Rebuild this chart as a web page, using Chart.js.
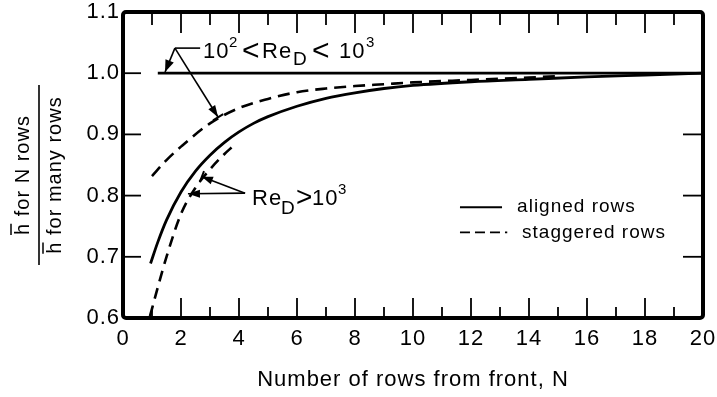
<!DOCTYPE html>
<html><head><meta charset="utf-8">
<script src="https://cdn.jsdelivr.net/npm/chart.js@4/dist/chart.umd.min.js"></script>
<style>html,body{margin:0;padding:0;background:#fff;}#wrap{width:717px;height:397px;}</style>
</head><body><div id="wrap"><canvas id="c" width="717" height="397"></canvas></div>
<script>
// ---- data ----
const xTickLabels = ['0','2','4','6','8','10','12','14','16','18','20'];
const yTickLabels = ['0.6','0.7','0.8','0.9','1.0','1.1'];

// aligned rows, Re_D > 10^3 (solid curve)
const alignedHighN = [0.95,1.2,1.5,2,2.5,3,3.5,4,4.5,5,6,7,8,9,10,12,14,16,18,20];
const alignedHighH = [0.689,0.724,0.760,0.806,0.840,0.866,0.887,0.904,0.918,0.929,0.946,0.959,0.968,0.975,0.980,0.986,0.990,0.994,0.997,1.0];
// staggered rows, Re_D > 10^3 (lower dashed curve)
const staggeredHighN = [0.93,1.2,1.5,2,2.5,3,3.5,3.8];
const staggeredHighH = [0.603,0.650,0.700,0.770,0.813,0.843,0.868,0.881];
// staggered rows, 10^2 < Re_D < 10^3 (upper dashed curve)
const staggeredLowN = [1,1.5,2,3,4,5,6,7,8,9,10,12,14,15];
const staggeredLowH = [0.832,0.858,0.880,0.918,0.943,0.958,0.969,0.975,0.979,0.982,0.985,0.989,0.993,0.995];
// aligned rows, 10^2 < Re_D < 10^3 (solid horizontal)
const alignedLowN = [1.2,20];
const alignedLowH = [1.0,1.0];

const FONT = '"Liberation Sans", Arial, sans-serif';
const pts = (xs, ys) => xs.map((x,i)=>({x, y: ys[i]}));

function arrowHead(ctx, x1,y1,x2,y2, len, w){
  const a = Math.atan2(y2-y1, x2-x1);
  ctx.beginPath();
  ctx.moveTo(x2,y2);
  ctx.lineTo(x2 - len*Math.cos(a) + w*Math.sin(a), y2 - len*Math.sin(a) - w*Math.cos(a));
  ctx.lineTo(x2 - len*Math.cos(a) - w*Math.sin(a), y2 - len*Math.sin(a) + w*Math.cos(a));
  ctx.closePath(); ctx.fill();
}
function line(ctx,x1,y1,x2,y2){ctx.beginPath();ctx.moveTo(x1,y1);ctx.lineTo(x2,y2);ctx.stroke();}
function crossBar(ctx,x1,y1,x2,y2,half){
  const a = Math.atan2(y2-y1, x2-x1);
  line(ctx, x2+half*Math.sin(a), y2-half*Math.cos(a), x2-half*Math.sin(a), y2+half*Math.cos(a));
}
// parts: {t, size, dx (offset from start), dy}
function rich(ctx, x, y, parts){
  ctx.textBaseline='alphabetic'; ctx.textAlign='left';
  for(const p of parts){
    ctx.font = p.size+'px '+FONT;
    ctx.fillText(p.t, x + p.dx, y + (p.dy||0));
  }
}

const decor = {
  id:'decor',
  beforeUpdate(chart){ chart.ctx.letterSpacing='1px'; },
  beforeDraw(chart){ chart.ctx.letterSpacing='1px'; },
  afterDatasetsDraw(chart){
    const ctx = chart.ctx, a = chart.chartArea, sx = chart.scales.x, sy = chart.scales.y;
    const X = v=>sx.getPixelForValue(v), Y = v=>sy.getPixelForValue(v);
    ctx.save();
    ctx.strokeStyle='#000'; ctx.fillStyle='#000'; ctx.lineCap='butt';
    // frame
    ctx.lineWidth=4;
    ctx.beginPath(); ctx.roundRect(a.left, a.top, a.right-a.left, a.bottom-a.top, 3); ctx.stroke();
    // ticks
    ctx.lineWidth=1.8;
    for(let n=1;n<20;n++){
      const major = n%2===0, px = X(n);
      line(ctx, px, a.bottom, px, a.bottom-(major?20:11));
      line(ctx, px, a.top, px, a.top+(major?21:13));
    }
    for(const v of [0.7,0.8,0.9,1.0]){
      const py = Y(v);
      line(ctx, a.left, py, a.left+18, py);
      line(ctx, a.right, py, a.right-20, py);
    }
    // annotation 1: 10^2 < Re_D < 10^3
    ctx.fillStyle='#000';
    rich(ctx, X(2.76), Y(1.025), [
      {t:'10',size:22,dx:0},{t:'2',size:15,dx:26,dy:-11},{t:'<',size:30,dx:39,dy:2},
      {t:'Re',size:22,dx:59},{t:'D',size:19,dx:90,dy:7},{t:'<',size:30,dx:109,dy:2},
      {t:'10',size:22,dx:136},{t:'3',size:15,dx:163,dy:-11}
    ]);
    ctx.lineWidth=1.6;
    const sxA = X(1.79), syA = Y(1.041);
    line(ctx, sxA, syA, X(2.66), syA);
    line(ctx, sxA, syA, X(1.45), Y(1.002));
    arrowHead(ctx, sxA, syA, X(1.45), Y(1.002), 12, 4.5);
    line(ctx, sxA, syA, X(3.28), Y(0.928));
    arrowHead(ctx, sxA, syA, X(3.28), Y(0.928), 12, 4);
    ctx.lineWidth=2; crossBar(ctx, sxA, syA, X(3.28), Y(0.928), 6);
    // annotation 2: Re_D > 10^3
    rich(ctx, X(4.45), Y(0.784), [
      {t:'Re',size:22,dx:0},{t:'D',size:19,dx:29,dy:9},{t:'>',size:28,dx:44,dy:1},
      {t:'10',size:22,dx:60},{t:'3',size:15,dx:86,dy:-11}
    ]);
    ctx.lineWidth=1.6;
    const sxB = X(4.21), syB = Y(0.804);
    line(ctx, sxB, syB, X(2.72), Y(0.831));
    arrowHead(ctx, sxB, syB, X(2.72), Y(0.831), 11, 4);
    ctx.lineWidth=2; crossBar(ctx, sxB, syB, X(2.72), Y(0.831), 6);
    ctx.lineWidth=1.6;
    line(ctx, sxB, syB, X(2.24), Y(0.803));
    arrowHead(ctx, sxB, syB, X(2.24), Y(0.803), 12, 4);
    // legend
    ctx.lineWidth=1.8;
    line(ctx, X(11.62), Y(0.781), X(13.07), Y(0.781));
    ctx.setLineDash([10,5]);
    line(ctx, X(11.62), Y(0.740), X(13.25), Y(0.740));
    ctx.setLineDash([]);
    ctx.font='19px '+FONT; ctx.textBaseline='middle'; ctx.textAlign='left';
    ctx.fillText('aligned rows', X(13.59), Y(0.781));
    ctx.fillText('staggered rows', X(13.76), Y(0.740));
    // y-axis title (fraction)
    ctx.save();
    ctx.translate(0, 175); ctx.rotate(-Math.PI/2);
    ctx.font='20px '+FONT; ctx.textAlign='center'; ctx.textBaseline='alphabetic';
    const num='h for N rows', den='h for many rows';
    const wn = ctx.measureText(num).width, wd = ctx.measureText(den).width;
    ctx.fillText(num, 0, 29);
    ctx.fillText(den, 0, 61);
    const hw = ctx.measureText('h').width-1;
    ctx.lineWidth=1.5;
    line(ctx, -wn/2, 11, -wn/2+hw, 11);
    line(ctx, -wd/2, 43, -wd/2+hw, 43);
    ctx.lineWidth=1.6;
    line(ctx, -90, 39, 90, 39);
    ctx.restore();
    ctx.restore();
  }
};

new Chart(document.getElementById('c'), {
  type:'line',
  data:{datasets:[
    {label:'aligned rows (Re_D > 10^3)', data:pts(alignedHighN, alignedHighH), borderColor:'#000', borderWidth:2.8, pointRadius:0, cubicInterpolationMode:'monotone', fill:false},
    {label:'staggered rows (Re_D > 10^3)', data:pts(staggeredHighN, staggeredHighH), borderColor:'#000', borderWidth:2.6, borderDash:[11,7], pointRadius:0, cubicInterpolationMode:'monotone', fill:false},
    {label:'staggered rows (10^2 < Re_D < 10^3)', data:pts(staggeredLowN, staggeredLowH), borderColor:'#000', borderWidth:2.6, borderDash:[12,7], pointRadius:0, cubicInterpolationMode:'monotone', fill:false},
    {label:'aligned rows (10^2 < Re_D < 10^3)', data:pts(alignedLowN, alignedLowH), borderColor:'#000', borderWidth:2.8, pointRadius:0, fill:false}
  ]},
  options:{
    responsive:false, animation:false, events:[],
    layout:{padding:{left:0,right:14,top:12,bottom:0}},
    plugins:{legend:{display:false}, tooltip:{enabled:false}},
    scales:{
      x:{type:'linear', position:'bottom', min:0, max:20,
        grid:{display:false, drawTicks:false}, border:{display:false},
        ticks:{stepSize:1, autoSkip:false, maxRotation:0, padding:8, color:'#000', font:{family:FONT,size:22},
          callback:(v)=>{const s=String(v); return xTickLabels.includes(s)?s:'';}},
        title:{display:true, text:'Number of rows from front, N', color:'#000', font:{family:FONT,size:22}, padding:{top:0,bottom:4}},
        afterFit:(s)=>{s.height=79; s.paddingLeft=0; s.paddingRight=0;}
      },
      y:{min:0.6, max:1.1,
        grid:{display:false, drawTicks:false}, border:{display:false},
        ticks:{stepSize:0.1, padding:3, color:'#000', font:{family:FONT,size:22},
          callback:(v)=>{const s=Number(v).toFixed(1); return yTickLabels.includes(s)?s:'';}},
        afterFit:(s)=>{s.width=123; s.paddingTop=0; s.paddingBottom=0;}
      }
    }
  },
  plugins:[decor]
});
</script></body></html>
